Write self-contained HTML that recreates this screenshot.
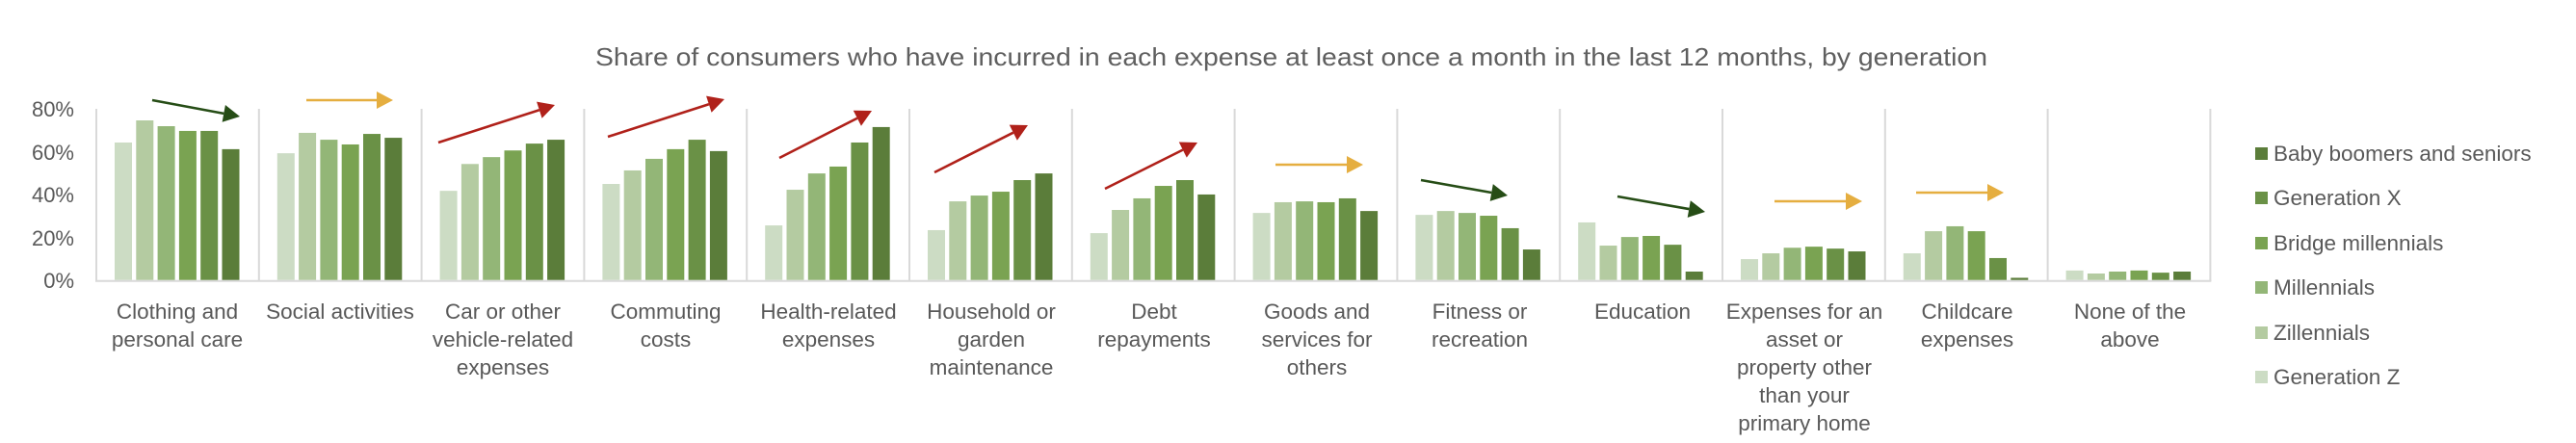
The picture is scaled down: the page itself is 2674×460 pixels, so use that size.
<!DOCTYPE html>
<html><head><meta charset="utf-8"><style>
html,body{margin:0;padding:0;background:#fff;}
svg{display:block;}
text{font-family:"Liberation Sans",sans-serif;fill:#595959;}
</style></head><body>
<svg id="s" width="2674" height="460" viewBox="0 0 2674 460" xmlns="http://www.w3.org/2000/svg">
<rect width="2674" height="460" fill="#fff"/>
<text x="618" y="68" font-size="26" textLength="1445" lengthAdjust="spacingAndGlyphs" style="fill:#5f5f5f">Share of consumers who have incurred in each expense at least once a month in the last 12 months, by generation</text>
<g font-size="22" text-anchor="end">
<text x="77" y="121">80%</text>
<text x="77" y="166">60%</text>
<text x="77" y="210">40%</text>
<text x="77" y="255">20%</text>
<text x="77" y="299">0%</text>
</g>
<g id="grid" stroke="#D9D9D9" stroke-width="2"></g>
<g id="bars"></g>
<g id="arrows"></g>
<g font-size="22.5" text-anchor="middle">
<text x="184" y="331">Clothing and</text><text x="184" y="360">personal care</text>
<text x="353" y="331">Social activities</text>
<text x="522" y="331">Car or other</text><text x="522" y="360">vehicle-related</text><text x="522" y="389">expenses</text>
<text x="691" y="331">Commuting</text><text x="691" y="360">costs</text>
<text x="860" y="331">Health-related</text><text x="860" y="360">expenses</text>
<text x="1029" y="331">Household or</text><text x="1029" y="360">garden</text><text x="1029" y="389">maintenance</text>
<text x="1198" y="331">Debt</text><text x="1198" y="360">repayments</text>
<text x="1367" y="331">Goods and</text><text x="1367" y="360">services for</text><text x="1367" y="389">others</text>
<text x="1536" y="331">Fitness or</text><text x="1536" y="360">recreation</text>
<text x="1705" y="331">Education</text>
<text x="1873" y="331">Expenses for an</text><text x="1873" y="360">asset or</text><text x="1873" y="389">property other</text><text x="1873" y="418">than your</text><text x="1873" y="447">primary home</text>
<text x="2042" y="331">Childcare</text><text x="2042" y="360">expenses</text>
<text x="2211" y="331">None of the</text><text x="2211" y="360">above</text>
</g>
<g font-size="22.5">
<rect x="2341" y="153" width="13" height="13" fill="#5B7D3A"/><text x="2360" y="167">Baby boomers and seniors</text>
<rect x="2341" y="199" width="13" height="13" fill="#6A9146"/><text x="2360" y="213">Generation X</text>
<rect x="2341" y="246" width="13" height="13" fill="#7AA352"/><text x="2360" y="260">Bridge millennials</text>
<rect x="2341" y="292" width="13" height="13" fill="#93B677"/><text x="2360" y="306">Millennials</text>
<rect x="2341" y="339" width="13" height="13" fill="#B4CBA1"/><text x="2360" y="353">Zillennials</text>
<rect x="2341" y="385" width="13" height="13" fill="#CCDCC4"/><text x="2360" y="399">Generation Z</text>
</g>
</svg>
<script>
var NS="http://www.w3.org/2000/svg";
function el(p,t,a){var e=document.createElementNS(NS,t);for(var k in a)e.setAttribute(k,a[k]);p.appendChild(e);return e;}
var cols=["#CCDCC4","#B4CBA1","#93B677","#7AA352","#6A9146","#5B7D3A"];
var data=[[64,74.3,71.6,69.4,69.4,60.9],[59,68.5,65.3,63.1,68,66.2],[41.5,54,57.2,60.3,63.5,65.3],[44.7,51,56.4,60.9,65.3,60],[25.4,42,49.6,52.8,64,71.2],[23.2,36.6,39.3,41.1,46.5,49.6],[21.8,32.6,38,43.8,46.5,39.8],[31.2,36.2,36.6,36.2,38,32.1],[30.3,32.1,31.2,29.9,24.1,14.2],[26.8,16,20,20.5,16.4,3.9],[9.7,12.4,15,15.5,14.6,13.3],[12.4,22.7,25,22.7,10.2,1],[4.4,3,3.9,4.4,3.4,3.9]];
var x0=100,cw=168.8,y0=291.7,sc=44.6/20;
var g=document.getElementById("grid"),b=document.getElementById("bars"),a=document.getElementById("arrows");
for(var i=0;i<=13;i++){var x=x0+i*cw;el(g,"line",{x1:x,y1:113,x2:x,y2:y0});}
el(g,"line",{x1:x0-1,y1:y0,x2:x0+13*cw+1,y2:y0});
data.forEach(function(d,i){d.forEach(function(v,j){var h=v*sc;el(b,"rect",{x:x0+i*cw+19+j*22.3,y:y0-1-h,width:18,height:h,fill:cols[j]});});});
var R="#B0211A",G="#264D16",Y="#E5AE40";
var ar=[[158,104,249,121,G],[318,104,408,104,Y],[455,148,576,109,R],[631,142,752,103,R],[809,164,905,115,R],[970,179,1067,130,R],[1147,196,1243,148,R],[1324,171,1415,171,Y],[1475,187,1565,203,G],[1679,204,1770,220,G],[1842,209,1933,209,Y],[1989,200,2080,200,Y]];
ar.forEach(function(q){var dx=q[2]-q[0],dy=q[3]-q[1],L=Math.sqrt(dx*dx+dy*dy),ux=dx/L,uy=dy/L,hl=17,hw=9;
var bx=q[2]-ux*hl,by=q[3]-uy*hl;
el(a,"line",{x1:q[0],y1:q[1],x2:bx,y2:by,stroke:q[4],"stroke-width":2.6});
el(a,"polygon",{points:q[2]+","+q[3]+" "+(bx-uy*hw)+","+(by+ux*hw)+" "+(bx+uy*hw)+","+(by-ux*hw),fill:q[4]});});
</script>
</body></html>
